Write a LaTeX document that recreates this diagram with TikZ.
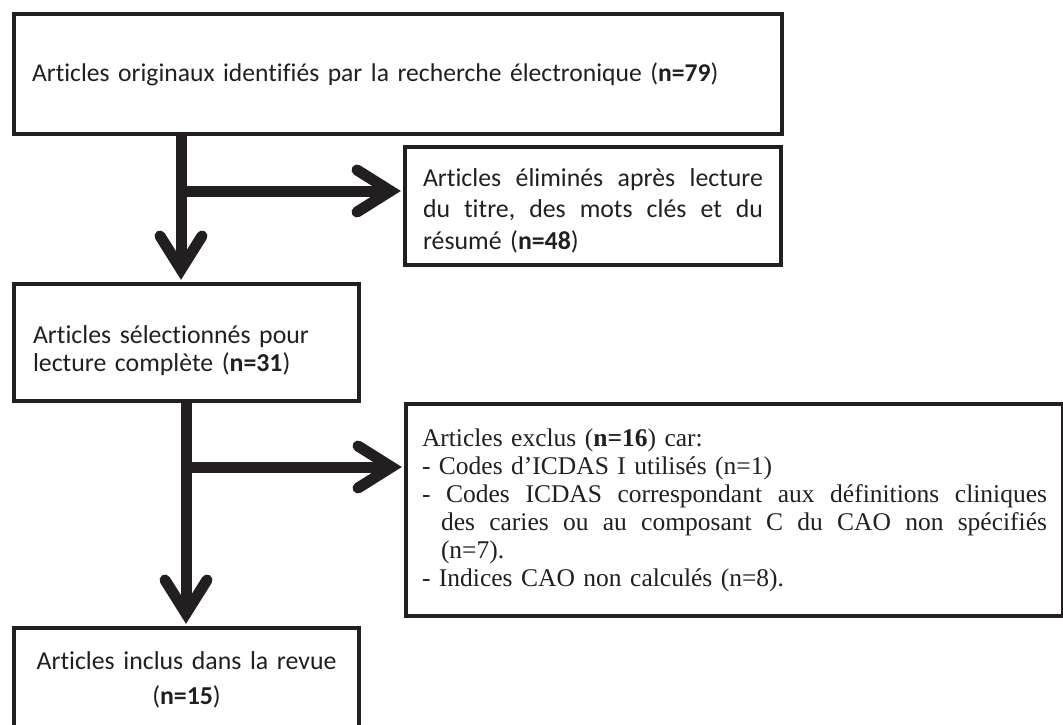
\documentclass[tikz,border=0pt]{standalone}
\usepackage{fontspec}
\setmainfont{Carlito}[Ligatures=NoCommon]
\newfontfamily\tnr{Liberation Serif}
\usetikzlibrary{calc}
\definecolor{ink}{HTML}{231F20}
\newcommand{\spread}[2]{\hbox to #1{#2}}
\newcommand{\lift}[1]{\rule{0pt}{#1}}
\begin{document}
\begin{tikzpicture}[x=1pt,y=-1pt,
  box/.style={draw=ink, line width=4pt, inner sep=0pt, text=ink, fill=white},
  shaft/.style={draw=ink, line width=11pt},
  head/.style={draw=ink, line width=11pt, line cap=round, line join=miter},
]
\useasboundingbox (0,0) rectangle (1063,725);
\clip (0,0) rectangle (1063,725);

\node[box, font=\fontsize{25.6}{32}\selectfont, minimum width=768pt, minimum height=120pt, text width=732pt, align=left] (b1) at (398,74)
  {Articles originaux identifiés par la recherche électronique (\textbf{n=79})};

\node[box, font=\fontsize{25.8}{31.5}\selectfont, minimum width=376pt, minimum height=118pt, text width=340pt, align=left] (b2) at (593,206)
  {\lift{27pt}\spread{340pt}{Articles\hfill éliminés\hfill après\hfill lecture}\\
   \lift{20pt}\spread{340pt}{du\hfill titre,\hfill des\hfill mots\hfill clés\hfill et\hfill du}\\
   résumé (\textbf{n=48})};

\node[box, font=\fontsize{25.8}{28}\selectfont, minimum width=345pt, minimum height=117pt, text width=307pt, align=left] (b3) at (186.5,342.5)
  {\lift{34pt}Articles sélectionnés pour\\ lecture complète (\textbf{n=31})};

\node[box, font=\tnr\fontsize{25.5}{28}\selectfont, minimum width=657pt, minimum height=212pt, text width=625pt, align=left] (b4) at (734.5,510)
  {Articles exclus (\textbf{n=16}) car:\\
   - Codes d’ICDAS I utilisés (n=1)\\
   \lift{18pt}\spread{625pt}{-\hfill Codes\hfill ICDAS\hfill correspondant\hfill aux\hfill définitions\hfill cliniques}\\
   \hspace*{19pt}\lift{18pt}\spread{606pt}{des\hfill caries\hfill ou\hfill au\hfill composant\hfill C\hfill du\hfill CAO\hfill non\hfill spécifiés}\\
   \hspace*{19pt}(n=7).\\
   - Indices CAO non calculés (n=8).};

\node[box, font=\fontsize{25.8}{35}\selectfont, minimum width=345pt, minimum height=104pt, text width=335pt, align=center] (b5) at (186.5,680)
  {Articles inclus dans la revue\\ (\textbf{n=15})};

\coordinate (c1) at (181,0);
\coordinate (c2) at (186,0);
\coordinate (j1) at (181,191);
\coordinate (j2) at (186,467);

% arrow 1 down
\draw[shaft] (b1.south -| c1) -- ($(b3.north -| c1)+(0,-12.5)$);
\draw[head] ($(b3.north -| c1)+(-21,-46)$) -- ($(b3.north -| c1)+(0,-12.5)$) -- ($(b3.north -| c1)+(21,-46)$);
% arrow 1 right
\draw[shaft] (j1) -- ($(b2.west |- j1)+(-12.5,0)$);
\draw[head] ($(b2.west |- j1)+(-46,-21)$) -- ($(b2.west |- j1)+(-12.5,0)$) -- ($(b2.west |- j1)+(-46,21)$);
% arrow 2 down
\draw[shaft] (b3.south -| c2) -- ($(b5.north -| c2)+(0,-12.5)$);
\draw[head] ($(b5.north -| c2)+(-21,-46)$) -- ($(b5.north -| c2)+(0,-12.5)$) -- ($(b5.north -| c2)+(21,-46)$);
% arrow 2 right
\draw[shaft] (j2) -- ($(b4.west |- j2)+(-12.5,0)$);
\draw[head] ($(b4.west |- j2)+(-46,-21)$) -- ($(b4.west |- j2)+(-12.5,0)$) -- ($(b4.west |- j2)+(-46,21)$);
\end{tikzpicture}
\end{document}
